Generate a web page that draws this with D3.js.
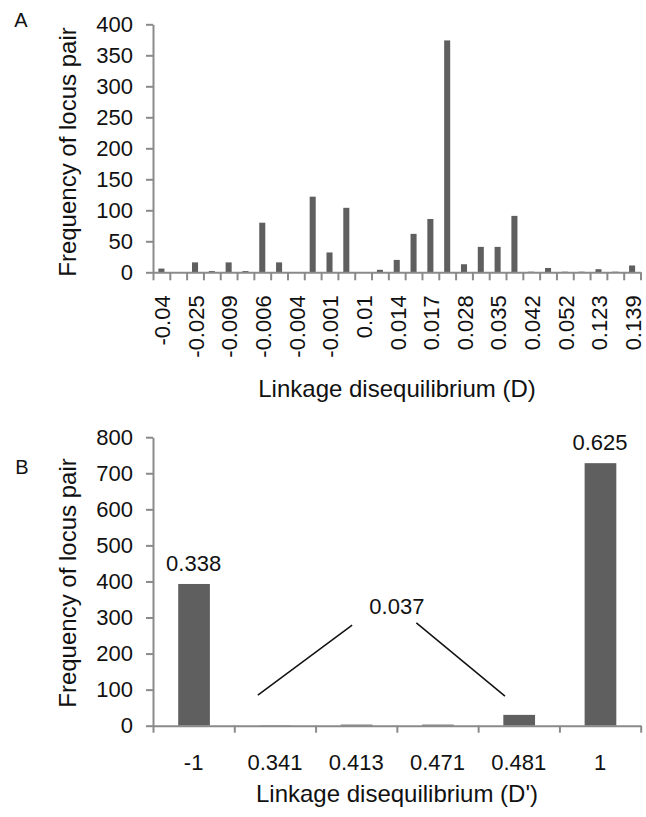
<!DOCTYPE html>
<html>
<head>
<meta charset="utf-8">
<script src="https://cdn.jsdelivr.net/npm/d3@7/dist/d3.min.js"></script>
<style>
  html, body { margin: 0; padding: 0; background: #fff; }
  svg { display: block; font-family: "Liberation Sans", Arial, sans-serif; }
  .axis path, .axis line { stroke: #8a8a8a; stroke-width: 2; }
  .axis text { fill: #111; font-size: 22px; font-family: "Liberation Sans", Arial, sans-serif; }
</style>
</head>
<body>
<svg id="chart" width="646" height="817"></svg>
<script>
// ---- Panel A data ----
const labelsA = ["-0.04","-0.025","-0.009","-0.006","-0.004","-0.001","0.01","0.014","0.017","0.028","0.035","0.042","0.052","0.123","0.139"];
const valuesA = [6,0,16,2,16,2,80,16,0,122,32,104,0,4,20,62,86,374,13,41,41,91,1,7,1,1,5,1,11];
const ticksA = [0,50,100,150,200,250,300,350,400];

// ---- Panel B data ----
const categoriesB = ["-1","0.341","0.413","0.471","0.481","1"];
const valuesB = [393,1,3,3,30,728];
const ticksB = [0,100,200,300,400,500,600,700,800];
const barLabelsB = [{cat:"-1", text:"0.338"}, {cat:"1", text:"0.625"}];
const groupLabelB = "0.037";

const svg = d3.select("#chart");
const barColor = "#5f5f5f";

// ================= Panel A =================
const xA = d3.scaleBand().domain(d3.range(valuesA.length)).range([153, 640.5]).padding(0);
const xAlin = d3.scaleLinear().domain([0, valuesA.length]).range([153, 640.5]);
const yA = d3.scaleLinear().domain([0, 400]).range([272.3, 24.3]);

svg.append("g").selectAll("rect").data(valuesA).join("rect")
  .attr("x", (d,i) => xA(i) + xA.bandwidth()*0.32)
  .attr("width", xA.bandwidth()*0.36)
  .attr("y", d => yA(d))
  .attr("height", d => yA(0) - yA(d))
  .attr("fill", barColor);

// y axis A
svg.append("g").attr("class","axis").attr("transform","translate(153,0)")
  .call(d3.axisLeft(yA).tickValues(ticksA).tickSize(7).tickPadding(13).tickSizeOuter(0));

// boundary ticks A
svg.append("g").attr("class","axis").attr("transform",`translate(0,${yA(0)})`)
  .call(d3.axisBottom(xAlin).tickValues(d3.range(valuesA.length+1)).tickFormat("").tickSize(8).tickSizeOuter(0));

// labels A (every other category)
const gLabA = svg.append("g").attr("class","axis").attr("transform",`translate(0,${yA(0)})`)
  .call(d3.axisBottom(xA).tickValues(d3.range(0, valuesA.length, 2)).tickFormat(i => labelsA[i/2]).tickSize(0).tickSizeOuter(0));
gLabA.select(".domain").remove();
gLabA.selectAll("text")
  .attr("transform","rotate(-90)")
  .attr("x",-23).attr("y",0).attr("dy","0.4em")
  .style("text-anchor","end");

svg.append("text").attr("x",397).attr("y",397).attr("text-anchor","middle")
  .attr("font-size",24).attr("fill","#111").text("Linkage disequilibrium (D)");
svg.append("text").attr("transform","translate(68,152) rotate(-90)").attr("text-anchor","middle")
  .attr("dy","0.35em").attr("font-size",24).attr("fill","#111").text("Frequency of locus pair");
svg.append("text").attr("x",21).attr("y",20).attr("dy","0.35em").attr("text-anchor","middle")
  .attr("font-size",20).attr("fill","#111").text("A");

// ================= Panel B =================
const xB = d3.scaleBand().domain(categoriesB).range([153, 640.7]).padding(0);
const yB = d3.scaleLinear().domain([0, 800]).range([725.7, 437.2]);

svg.append("g").selectAll("rect").data(valuesB).join("rect")
  .attr("x", (d,i) => xB(categoriesB[i]) + xB.bandwidth()*0.31)
  .attr("width", xB.bandwidth()*0.39)
  .attr("y", d => yB(d))
  .attr("height", d => yB(0) - yB(d))
  .attr("fill", barColor);

svg.append("g").attr("class","axis").attr("transform","translate(153,0)")
  .call(d3.axisLeft(yB).tickValues(ticksB).tickSize(7).tickPadding(13).tickSizeOuter(0));

const xBlin = d3.scaleLinear().domain([0, categoriesB.length]).range([153, 640.7]);
svg.append("g").attr("class","axis").attr("transform",`translate(0,${yB(0)})`)
  .call(d3.axisBottom(xBlin).tickValues(d3.range(categoriesB.length+1)).tickFormat("").tickSize(7).tickSizeOuter(0));

const gLabB = svg.append("g").attr("class","axis").attr("transform",`translate(0,${yB(0)})`)
  .call(d3.axisBottom(xB).tickSize(0).tickPadding(29).tickSizeOuter(0));
gLabB.select(".domain").remove();

// bar labels
barLabelsB.forEach(b => {
  const i = categoriesB.indexOf(b.cat);
  svg.append("text").attr("x", xB(b.cat) + xB.bandwidth()/2).attr("y", yB(valuesB[i]) - 13)
    .attr("text-anchor","middle").attr("font-size",22).attr("fill","#111").text(b.text);
});

// grouped annotation "0.037"
const gx = c => xB(c);
const bw = xB.bandwidth();
svg.append("text").attr("x", gx("0.471")).attr("y", yB(330)).attr("dy","0.35em")
  .attr("text-anchor","middle").attr("font-size",22).attr("fill","#111").text(groupLabelB);
svg.append("line")
  .attr("x1", gx("0.341") + bw*0.29).attr("y1", yB(85))
  .attr("x2", gx("0.413") + bw*0.45).attr("y2", yB(279))
  .attr("stroke","#111").attr("stroke-width",1.5);
svg.append("line")
  .attr("x1", gx("0.471") + bw*0.24).attr("y1", yB(285))
  .attr("x2", gx("0.481") + bw*0.33).attr("y2", yB(82))
  .attr("stroke","#111").attr("stroke-width",1.5);

svg.append("text").attr("x",397).attr("y",802).attr("text-anchor","middle")
  .attr("font-size",24).attr("fill","#111").text("Linkage disequilibrium (D')");
svg.append("text").attr("transform","translate(68,583) rotate(-90)").attr("text-anchor","middle")
  .attr("dy","0.35em").attr("font-size",24).attr("fill","#111").text("Frequency of locus pair");
svg.append("text").attr("x",22).attr("y",467).attr("dy","0.35em").attr("text-anchor","middle")
  .attr("font-size",20).attr("fill","#111").text("B");
</script>
</body>
</html>
